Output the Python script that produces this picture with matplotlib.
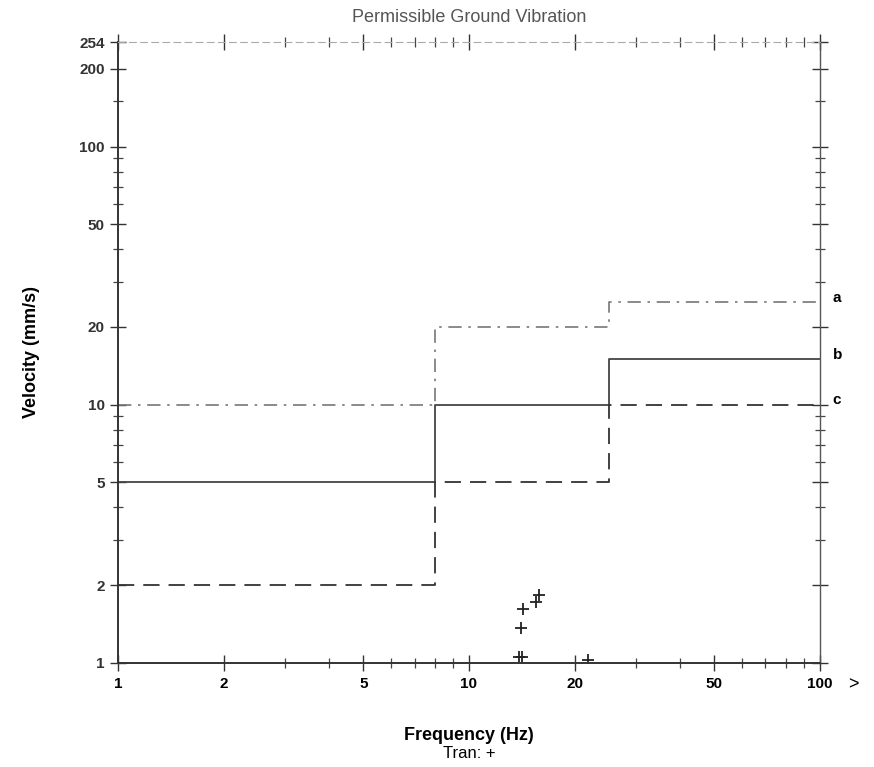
import numpy as np
import matplotlib.pyplot as plt
from matplotlib.ticker import FixedLocator, NullFormatter

# Limites de velocidad por tramo de frecuencia
freq = [1, 8, 25, 100]
vel_a = [10, 20, 25, 25]
vel_b = [5, 10, 15, 15]
vel_c = [2, 5, 10, 10]

# Puntos medidos (Tran)
tran_f = [13.9, 14.2, 14.1, 14.25, 15.5, 15.8, 21.9]
tran_v = [1.05, 1.05, 1.36, 1.62, 1.72, 1.83, 1.02]

x_ticks = [1, 2, 5, 10, 20, 50, 100]
y_ticks = [1, 2, 5, 10, 20, 50, 100, 200, 254]

plt.rcParams['font.family'] = ['Liberation Sans', 'DejaVu Sans']

fig = plt.figure(figsize=(8.74, 7.67), dpi=100)
ax = fig.add_axes([0.135, 0.136, 0.803, 0.809])

ax.step(freq, vel_a, where='post', color='#777777', lw=1.2, linestyle=(0, (8, 4, 1.5, 4)))
ax.step(freq, vel_b, where='post', color='#444444', lw=1.3)
ax.step(freq, vel_c, where='post', color='#333333', lw=1.3, linestyle=(0, (9, 5)))
ax.plot(tran_f, tran_v, '+', color='#222222', ms=9, mew=1.3)

ax.set_xscale('log')
ax.set_yscale('log')
ax.set_xlim(1, 100)
ax.set_ylim(1, 254)

ax.xaxis.set_major_locator(FixedLocator(x_ticks))
ax.xaxis.set_minor_locator(FixedLocator([3, 4, 6, 7, 8, 9, 30, 40, 60, 70, 80, 90]))
ax.yaxis.set_major_locator(FixedLocator(y_ticks))
ax.yaxis.set_minor_locator(FixedLocator([3, 4, 6, 7, 8, 9, 30, 40, 60, 70, 80, 90, 150]))
ax.set_xticklabels([str(t) for t in x_ticks], fontsize=11, fontweight='bold')
ax.set_yticklabels([str(t) for t in y_ticks], fontsize=11, fontweight='bold', color='#333333')
ax.xaxis.set_minor_formatter(NullFormatter())
ax.yaxis.set_minor_formatter(NullFormatter())

ax.tick_params(which='major', direction='inout', length=12, width=1, color='#333333',
               top=True, right=True)
ax.tick_params(which='minor', direction='inout', length=7, width=0.9, color='#444444',
               top=True, right=True)
ax.tick_params(axis='x', pad=4)

for s in ['left', 'bottom']:
    ax.spines[s].set_linewidth(1.4)
    ax.spines[s].set_color('#333333')
ax.spines['right'].set_linewidth(1.0)
ax.spines['right'].set_color('#555555')
ax.spines['top'].set_linewidth(0.8)
ax.spines['top'].set_color('#aaaaaa')
ax.spines['top'].set_linestyle((0, (6, 4)))

ax.text(0.5, 1.039, 'Permissible Ground Vibration', transform=ax.transAxes,
        ha='center', va='center', fontsize=13, color='#555555')
ax.set_ylabel('Velocity (mm/s)', fontsize=13, fontweight='bold', labelpad=28)
ax.set_xlabel('Frequency (Hz)', fontsize=13, fontweight='bold', labelpad=26)
ax.text(0.5, -0.135, 'Tran: +', transform=ax.transAxes, ha='center', va='top', fontsize=12)

for lab, v in zip(['a', 'b', 'c'], [vel_a[-1], vel_b[-1], vel_c[-1]]):
    ax.text(1.018, v * 1.04, lab, transform=ax.get_yaxis_transform(), fontsize=11,
            fontweight='bold', va='center')
ax.text(1.04, -0.035, '>', transform=ax.transAxes, fontsize=13, va='center')

fig.savefig('out.png', dpi=100)
